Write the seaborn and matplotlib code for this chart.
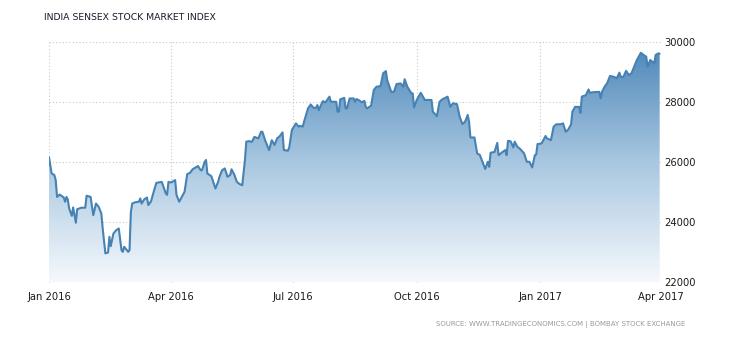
import numpy as np
import pandas as pd
import matplotlib
matplotlib.use("Agg")
import matplotlib.pyplot as plt
import matplotlib.dates as mdates
from matplotlib.colors import LinearSegmentedColormap
import seaborn as sns

# ---- data ----
day_offsets = [0, 2, 4, 5, 6, 8, 11, 12, 13, 14, 15, 17, 18, 20, 21, 24, 27, 28, 31, 33,
               35, 37, 39, 40, 42, 44, 45, 46, 48, 50, 52, 54, 55, 56, 59, 60, 61, 62, 64, 67,
               68, 69, 71, 73, 74, 76, 78, 80, 84, 87, 88, 89, 91, 94, 95, 97, 101, 103, 105, 107,
               111, 113, 114, 116, 117, 118, 121, 122, 124, 126, 127, 129, 131, 133, 135, 136, 138, 140, 142, 144,
               146, 147, 149, 151, 152, 153, 156, 158, 159, 161, 163, 164, 166, 168, 170, 172, 174, 175, 178, 179,
               181, 184, 186, 187, 189, 190, 193, 195, 197, 199, 200, 201, 204, 206, 209, 210, 214, 215, 216, 217,
               220, 221, 222, 224, 227, 228, 229, 231, 233, 235, 236, 237, 240, 242, 244, 247, 249, 251, 252, 255,
               257, 259, 262, 264, 265, 267, 270, 271, 272, 274, 277, 280, 285, 286, 289, 291, 293, 297, 299, 301,
               304, 306, 308, 310, 312, 313, 314, 317, 319, 321, 323, 325, 327, 328, 329, 332, 334, 335, 338, 340,
               341, 342, 344, 346, 347, 349, 351, 354, 356, 358, 360, 362, 363, 364, 367, 370, 371, 374, 376, 378,
               381, 383, 385, 387, 389, 390, 392, 395, 396, 397, 400, 402, 403, 406, 410, 411, 412, 414, 416, 418,
               421, 423, 425, 426, 428, 430, 432, 434, 436, 438, 441, 443, 445, 446, 448, 451, 452, 454, 455]
sensex = [26170, 25630, 25580, 25410, 24850, 24930, 24830, 24690, 24850, 24770, 24470, 24220, 24500, 23990, 24440, 24490, 24490, 24890, 24850, 24240,
          24630, 24520, 24300, 23800, 22970, 23000, 23520, 23210, 23630, 23740, 23800, 23080, 23020, 23190, 23020, 23080, 24350, 24630, 24670, 24690,
          24800, 24630, 24770, 24830, 24580, 24700, 25020, 25320, 25350, 24970, 24920, 25350, 25330, 25410, 24920, 24690, 25020, 25610, 25650, 25770,
          25880, 25740, 25740, 26020, 26080, 25630, 25540, 25400, 25130, 25350, 25520, 25740, 25800, 25520, 25580, 25770, 25600, 25350, 25280, 25240,
          26080, 26690, 26710, 26680, 26750, 26850, 26800, 27020, 27020, 26740, 26520, 26410, 26740, 26580, 26800, 26880, 27000, 26410, 26390, 26500,
          27080, 27300, 27190, 27220, 27190, 27350, 27800, 27930, 27820, 27820, 27910, 27740, 28040, 28000, 28190, 28020, 28020, 27690, 27690, 28100,
          28150, 27800, 27800, 28130, 28130, 28020, 28110, 28070, 28000, 28050, 27850, 27800, 27890, 28410, 28520, 28540, 28970, 29040, 28740, 28350,
          28350, 28610, 28630, 28520, 28770, 28520, 28300, 28300, 27830, 28080, 28320, 28080, 28080, 27690, 27540, 28020, 28100, 28190, 27850, 27970,
          27940, 27520, 27280, 27350, 27580, 27350, 26830, 26830, 26300, 26250, 26020, 25780, 26020, 25850, 26320, 26350, 26650, 26240, 26350, 26410,
          26240, 26720, 26700, 26500, 26690, 26520, 26450, 26300, 26020, 26020, 25830, 26240, 26260, 26610, 26630, 26880, 26800, 26740, 27190, 27270,
          27270, 27300, 27020, 27100, 27270, 27690, 27850, 27850, 27650, 28190, 28240, 28430, 28320, 28340, 28350, 28130, 28350, 28520, 28650, 28880,
          28850, 28800, 28990, 28850, 28850, 29050, 28910, 28970, 29190, 29410, 29650, 29580, 29520, 29190, 29410, 29300, 29580, 29630, 29620]
y_ticks = [22000, 24000, 26000, 28000, 30000]
x_tick_dates = ["2016-01-01", "2016-04-01", "2016-07-01", "2016-10-01", "2017-01-01", "2017-04-01"]
x_tick_labels = ["Jan 2016", "Apr 2016", "Jul 2016", "Oct 2016", "Jan 2017", "Apr 2017"]
title_text = "INDIA SENSEX STOCK MARKET INDEX"
source_text = "SOURCE: WWW.TRADINGECONOMICS.COM | BOMBAY STOCK EXCHANGE"

dates = pd.Timestamp("2016-01-01") + pd.to_timedelta(day_offsets, unit="D")
df = pd.DataFrame({"date": dates, "value": sensex})

sns.set_style("white")
plt.rcParams["font.family"] = ["DejaVu Sans"]

fig = plt.figure(figsize=(7.3, 3.4), dpi=100)
ax = fig.add_axes([49 / 730, 1 - 282.5 / 340, (661 - 49) / 730, (282.5 - 42.3) / 340])

line_color = "#4682b4"
xmin = mdates.date2num(pd.Timestamp("2016-01-01"))
xmax = mdates.date2num(pd.Timestamp("2017-04-01"))
ymin, ymax = 22000, 30000

# gradient fill under the line
fill = ax.fill_between(df["date"], df["value"], ymin, color="none", lw=0)
cmap = LinearSegmentedColormap.from_list(
    "g", [(0.0, (0.96, 0.975, 0.99)), (0.5, (0.66, 0.78, 0.88)), (1.0, (0.29, 0.52, 0.72))])
grad = np.linspace(0, 1, 256).reshape(-1, 1)
im = ax.imshow(grad, extent=[xmin, xmax, ymin, ymax], origin="lower", aspect="auto",
               cmap=cmap, zorder=1)
path = fill.get_paths()[0]
im.set_clip_path(path, transform=ax.transData)

sns.lineplot(data=df, x="date", y="value", ax=ax, color=line_color, lw=1.5, zorder=3)

ax.set_xlim(xmin, xmax)
ax.set_ylim(ymin, ymax)
ax.set_xlabel("")
ax.set_ylabel("")

ax.set_xticks([mdates.date2num(pd.Timestamp(d)) for d in x_tick_dates])
ax.set_xticklabels(x_tick_labels, fontsize=7.2, color="#1a1a1a")
ax.yaxis.tick_right()
ax.set_yticks(y_ticks)
ax.set_yticklabels([str(v) for v in y_ticks], fontsize=7.2, color="#1a1a1a")
ax.tick_params(axis="x", length=0, pad=7)
ax.tick_params(axis="y", length=0, pad=2)

ax.grid(True, color="#c8c8c8", linestyle=(0, (1, 2)), lw=0.8, zorder=0)
ax.set_axisbelow(True)
for s in ax.spines.values():
    s.set_visible(False)

fig.text(44 / 730, 1 - 18 / 340, title_text, fontsize=6.7, color="#1a1a2a",
         ha="left", va="center")
fig.text(685 / 730, 1 - 325 / 340, source_text, fontsize=5.0, color="#9a9a9a",
         ha="right", va="center")

fig.savefig("out.png", dpi=100)
